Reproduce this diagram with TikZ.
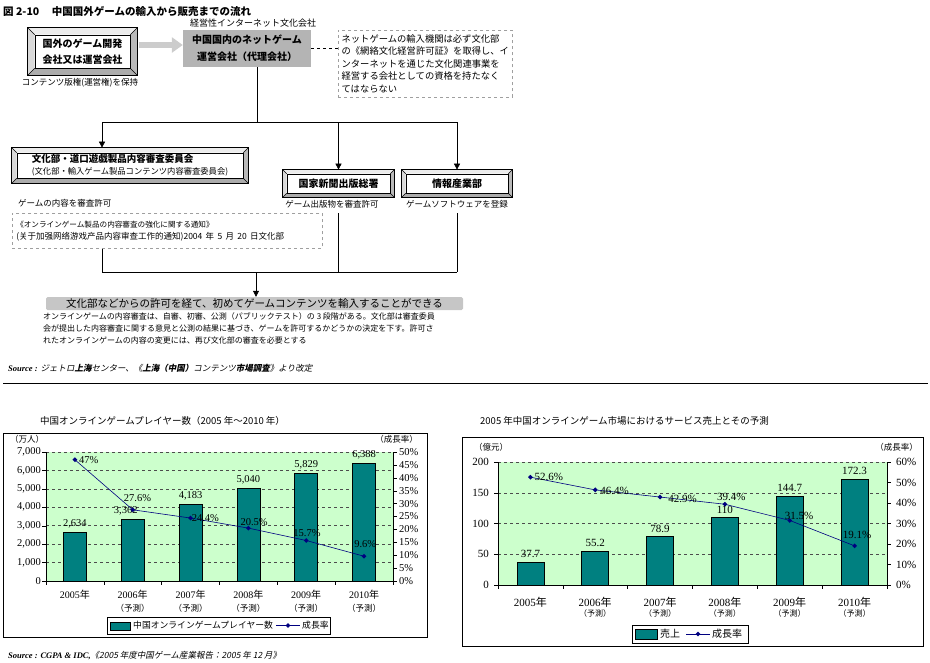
\documentclass[tikz,border=0pt]{standalone}
\usepackage{fontspec}
\setmainfont{Liberation Serif}
\newfontfamily\jp{Noto Sans CJK JP}
\newfontfamily\jpsl{Noto Sans CJK JP}[FakeSlant=0.2]
\usetikzlibrary{positioning,arrows.meta,calc,backgrounds,shapes.geometric}
\definecolor{barteal}{HTML}{008080}
\definecolor{linenavy}{HTML}{000080}
\definecolor{plotgreen}{HTML}{CCFFCC}
\definecolor{boxgray}{HTML}{B4B4B4}
\tikzset{
  >={Triangle[length=6pt,width=6pt]},
  txt/.style 2 args={inner sep=0pt,font=\jp\fontsize{#1}{#2}\selectfont},
  btxt/.style 2 args={inner sep=0pt,font=\jp\bfseries\fontsize{#1}{#2}\selectfont},
  num/.style={inner sep=0pt,font=\fontsize{#1}{#1}\selectfont},
  bevbox/.style={draw,fill=white,line width=0.7pt,align=center,inner sep=0pt},
  arr/.style={->,line width=0.6pt},
  link/.style={line width=0.6pt},
  fatarrow/.style={-{Triangle[length=11pt,width=15pt]},line width=6pt,gray!40},
  notebox/.style={draw=gray!75,dashed,line width=0.6pt},
  chartframe/.style={draw,line width=0.8pt},
  gridln/.style={dashed,line width=0.5pt,black!70},
  bar/.style={fill=barteal,draw=black,line width=0.6pt},
  rate/.style={linenavy,line width=0.6pt},
  mk/.style={diamond,fill=linenavy,inner sep=0pt,minimum size=5pt},
}
% raised frame round a box node
\newcommand{\bevel}[2]{%
  \begin{scope}[on background layer]
    \coordinate (#1-a) at ($(#1.north west)+(-#2,-#2)$);
    \coordinate (#1-b) at ($(#1.north east)+(#2,-#2)$);
    \coordinate (#1-c) at ($(#1.south east)+(#2,#2)$);
    \coordinate (#1-d) at ($(#1.south west)+(-#2,#2)$);
    \fill[gray!15] (#1-a) -- (#1-b) -- (#1.north east) -- (#1.north west) -- cycle;
    \fill[gray!30] (#1-a) -- (#1.north west) -- (#1.south west) -- (#1-d) -- cycle;
    \fill[gray!55] (#1-b) -- (#1-c) -- (#1.south east) -- (#1.north east) -- cycle;
    \fill[gray!65] (#1-d) -- (#1-c) -- (#1.south east) -- (#1.south west) -- cycle;
    \draw[line width=0.7pt] (#1-a) rectangle (#1-c);
    \foreach \k/\m in {a/north west,b/north east,c/south east,d/south west}
      \draw[line width=0.4pt] (#1-\k) -- (#1.\m);
  \end{scope}}

\begin{document}
\begin{tikzpicture}[x=1pt,y=-1pt]
  \useasboundingbox (0,0) rectangle (930,662);
  \node[btxt={10.5}{12},anchor=west] (fig) at (3,11)
    {図 2-10\hspace{1.2em}中国国外ゲームの輸入から販売までの流れ};

  % --- flow ---
  \node[bevbox,btxt={10}{16},minimum width=95,minimum height=33] (foreign) at (82.5,51.5)
    {国外のゲーム開発\\会社又は運営会社};
  \bevel{foreign}{7}
  \node[txt={8.5}{10}] (foreignlbl) at (80,83) {コンテンツ版権(運営権)を保持};
  \node[fill=boxgray,btxt={10}{17},align=center,minimum width=128,minimum height=37] (agent)
    at (247,48.5) {中国国内のネットゲーム\\運営会社（代理会社）};
  \node[txt={9}{10}] (agentcap) at (253,23) {経営性インターネット文化会社};
  \draw[fatarrow] ([xshift=9pt,yshift=6.5pt]foreign.east) -- ([yshift=6.5pt]foreign.east -| agent.west);
  \node[notebox,txt={9.3}{12.5},align=left,anchor=north west,minimum width=174,minimum height=67]
    (note) at (338,30)
    {ネットゲームの輸入機関は必ず文化部\\の《網絡文化経営許可証》を取得し、イ\\ンターネットを通じた文化関連事業を\\経営する会社としての資格を持たなく\\てはならない};
  \draw[link,dashed] (agent.east) -- (agent.east -| note.west);

  \node[bevbox,minimum width=226,minimum height=25,align=left] (bunka) at (130,165.5)
    {{\jp\bfseries\fontsize{9.5}{12}\selectfont 文化部・道口遊戯製品内容審査委員会}\\
     {\jp\fontsize{8.3}{12}\selectfont (文化部・輸入ゲーム製品コンテンツ内容審査委員会)}};
  \bevel{bunka}{5}
  \node[txt={8.5}{10},anchor=west] (bunkalbl) at (18,203) {ゲームの内容を審査許可};
  \node[notebox,anchor=north west,minimum width=310,minimum height=35,text width=302,
    align=left,inner xsep=4,inner ysep=2] (notice) at (12,213)
    {{\jp\fontsize{7.6}{17}\selectfont 《オンラインゲーム製品の内容審査の強化に関する通知》}\\
     {\jp\fontsize{8.5}{17}\selectfont (关于加强网络游戏产品内容审查工作的通知)2004 年 5 月 20 日文化部}};

  \node[bevbox,btxt={10}{12},minimum width=103,minimum height=19] (press) at (338.5,183.5) {国家新聞出版総署};
  \bevel{press}{4}
  \node[bevbox,btxt={10}{12},minimum width=102,minimum height=19] (mii) at (457,183.5) {情報産業部};
  \bevel{mii}{4}
  \node[txt={8.5}{10}] (presslbl) at (332,204) {ゲーム出版物を審査許可};
  \node[txt={8.5}{10}] (miilbl) at (457,204) {ゲームソフトウェアを登録};

  \coordinate (drop) at (257,122);
  \coordinate (j1) at (102,122);
  \coordinate (j2) at (press.north |- j1);
  \coordinate (j3) at (mii.north |- j1);
  \draw[link] (agent.south -| drop) -- (drop);
  \draw[link] (j1) -- (j3);
  \draw[arr,shorten >=5pt] (j1) -- (j1 |- bunka.north);
  \draw[arr,shorten >=4pt] (j2) -- (press.north);
  \draw[arr,shorten >=4pt] (j3) -- (mii.north);

  \node[fill=gray!45,rounded corners=1.5pt,minimum width=417,minimum height=13,txt={10.5}{12}]
    (result) at (254.5,303.5) {文化部などからの許可を経て、初めてゲームコンテンツを輸入することができる};
  \coordinate (k1) at (102,272);
  \coordinate (k2) at (press.north |- k1);
  \coordinate (k3) at (mii.north |- k1);
  \coordinate (k0) at (256,272);
  \draw[link] (notice.south -| k1) -- (k1) -- (k3);
  \draw[link] (k2 |- presslbl.south) ++(0,5) -- (k2);
  \draw[link] (k3 |- miilbl.south) ++(0,5) -- (k3);
  \draw[arr] (k0) -- (k0 |- result.north);
  \node[txt={8}{12.4},anchor=north west,align=left] (resultnote) at (43,312)
    {オンラインゲームの内容審査は、自審、初審、公測（パブリックテスト）の 3 段階がある。文化部は審査委員\\
     会が提出した内容審査に関する意見と公測の結果に基づき、ゲームを許可するかどうかの決定を下す。許可さ\\
     れたオンラインゲームの内容の変更には、再び文化部の審査を必要とする};
  \node[anchor=west,inner sep=0pt] (src1) at (8,368)
    {\fontsize{8.5}{10}\selectfont\bfseries\itshape Source : \jpsl\mdseries ジェトロ{\bfseries 上海}センター、《{\bfseries 上海（中国）}コンテンツ{\bfseries 市場調査}》より改定};
  \draw[line width=0.8pt] (3,383) -- (928,383);

  % --- players chart ---
  \node[txt={9.5}{11},anchor=west] (ltitle) at (40,421) {中国オンラインゲームプレイヤー数（2005 年～2010 年）};
  \draw[chartframe] (3,433) rectangle (427,637);
  \fill[plotgreen] (46,452) rectangle (393,581);
  \foreach \k in {1,...,7}
    \draw[gridln] (46,{581-\k*129/7}) -- (393,{581-\k*129/7});
  \draw (46,452) -- (46,581) -- (393,581) -- (393,452);
  \foreach \k/\t in {0/0,1/{1,000},2/{2,000},3/{3,000},4/{4,000},5/{5,000},6/{6,000},7/{7,000}} {
    \draw (46,{581-\k*129/7}) -- ++(-4,0);
    \node[num=10.5,anchor=east] (lax\k) at (41,{581-\k*129/7}) {\t};
  }
  \foreach \k in {0,...,10} {
    \pgfmathtruncatemacro\p{\k*5}
    \draw (393,{581-\k*12.9}) -- ++(4,0);
    \node[num=10.5,anchor=west] (lay\k) at (399,{581-\k*12.9}) {\p\%};
  }
  \foreach \k in {0,...,6} \draw (46+\k*57.83,581) -- ++(0,4);
  \node[txt={8.5}{10},anchor=west] (lunit) at (10,439) {（万人）};
  \node[txt={8.5}{10},anchor=east] (lrunit) at (418,439) {（成長率）};
  \foreach \v/\t/\dx [count=\i] in {2634/{2,634}/0,3362/{3,362}/-7,4183/{4,183}/0,5040/{5,040}/0,5829/{5,829}/0,6388/{6,388}/0} {
    \pgfmathsetmacro\cx{46+57.83*(\i-0.5)}
    \pgfmathsetmacro\h{\v/7000*129}
    \draw[bar] (\cx-11.5,581) rectangle (\cx+11.5,581-\h);
    \node[num=10.5,anchor=south] (lval\i) at (\cx+\dx,581-\h-4) {\t};
  }
  \foreach \r [count=\i] in {47,27.6,24.4,20.5,15.7,9.6}
    \coordinate (lp\i) at ({46+57.83*(\i-0.5)},{581-\r*129/50});
  \draw[rate] (lp1) -- (lp2) -- (lp3) -- (lp4) -- (lp5) -- (lp6);
  \foreach \i/\t/\dx/\dy in {1/47/4/0,2/27.6/-9/-12,3/24.4/1/0,4/20.5/-8/-6,5/15.7/-13/-7,6/9.6/-10/-12} {
    \node[mk] (lm\i) at (lp\i) {};
    \node[num=10.5,anchor=west] (lr\i) at ($(lp\i)+(\dx,\dy)$) {\t\%};
  }
  \foreach \y [count=\i] in {2005,...,2010} {
    \node[num=10] (lx\i) at ({46+57.83*(\i-0.5)},595) {\y{\jp 年}};
    \ifnum\i>1 \node[txt={8.5}{10}] (lf\i) at ({46+57.83*(\i-0.5)},608) {（予測）};\fi
  }
  \node[draw,line width=0.6pt,anchor=north west,minimum width=223,minimum height=17,inner sep=0pt] (lleg) at (107,617) {};
  \draw[bar] (110,622) rectangle (130,630);
  \node[txt={8.8}{10},anchor=west] (llegbar) at (133,625.5) {中国オンラインゲームプレイヤー数};
  \draw[rate] (276,625.5) -- (300,625.5);
  \node[mk] (llegmk) at (288,625.5) {};
  \node[txt={8.8}{10},anchor=west] (llegrate) at (302,625.5) {成長率};
  \node[anchor=west,inner sep=0pt] (src2) at (8,656)
    {\fontsize{8.5}{10}\selectfont\bfseries\itshape Source : CGPA \& IDC,\jpsl\mdseries《2005 年度中国ゲーム産業報告：2005 年 12 月》};

  % --- sales chart ---
  \node[txt={9.5}{11},anchor=west] (rtitle) at (480,421) {2005 年中国オンラインゲーム市場におけるサービス売上とその予測};
  \draw[chartframe] (462,437) rectangle (923,646);
  \fill[plotgreen] (498,462) rectangle (887,585);
  \foreach \k in {1,...,4}
    \draw[gridln] (498,{585-\k*30.75}) -- (887,{585-\k*30.75});
  \draw (498,462) -- (498,585) -- (887,585) -- (887,462);
  \foreach \k in {0,...,4} {
    \pgfmathtruncatemacro\p{\k*50}
    \draw (498,{585-\k*30.75}) -- ++(-4,0);
    \node[num=11,anchor=east] (rax\k) at (489,{585-\k*30.75}) {\p};
  }
  \foreach \k in {0,...,6} {
    \pgfmathtruncatemacro\p{\k*10}
    \draw (887,{585-\k*20.5}) -- ++(4,0);
    \node[num=11,anchor=west] (ray\k) at (896,{585-\k*20.5}) {\p\%};
  }
  \foreach \k in {0,...,6} \draw (498+\k*64.83,585) -- ++(0,4);
  \node[txt={8.5}{10},anchor=west] (runit) at (474,447) {（億元）};
  \node[txt={8.5}{10},anchor=east] (rrunit) at (918,447) {（成長率）};
  \foreach \v [count=\i] in {37.7,55.2,78.9,110,144.7,172.3} {
    \pgfmathsetmacro\cx{498+64.83*(\i-0.5)}
    \pgfmathsetmacro\h{\v/200*123}
    \draw[bar] (\cx-13.5,585) rectangle (\cx+13.5,585-\h);
    \node[num=11,anchor=south] (rval\i) at (\cx,585-\h-4) {\v};
  }
  \foreach \r [count=\i] in {52.6,46.4,42.9,39.4,31.5,19.1}
    \coordinate (rp\i) at ({498+64.83*(\i-0.5)},{585-\r*123/60});
  \draw[rate] (rp1) -- (rp2) -- (rp3) -- (rp4) -- (rp5) -- (rp6);
  \foreach \i/\t/\dx/\dy in {1/52.6/4/0,2/46.4/5/1,3/42.9/8/2,4/39.4/-8/-7,5/31.5/-5/-5,6/19.1/-12/-11} {
    \node[mk] (rm\i) at (rp\i) {};
    \node[num=11,anchor=west] (rr\i) at ($(rp\i)+(\dx,\dy)$) {\t\%};
  }
  \foreach \y [count=\i] in {2005,...,2010} {
    \node[num=11] (rx\i) at ({498+64.83*(\i-0.5)},602) {\y{\jp 年}};
    \ifnum\i>1 \node[txt={8}{10}] (rf\i) at ({498+64.83*(\i-0.5)},613) {（予測）};\fi
  }
  \node[draw,line width=0.6pt,anchor=north west,minimum width=116,minimum height=18,inner sep=0pt] (rleg) at (632,625) {};
  \draw[bar] (635,629) rectangle (657,639);
  \node[txt={10}{11},anchor=west] (rlegbar) at (660,634) {売上};
  \draw[rate] (686,634) -- (710,634);
  \node[mk] (rlegmk) at (698,634) {};
  \node[txt={10}{11},anchor=west] (rlegrate) at (712,634) {成長率};
\end{tikzpicture}
\end{document}
